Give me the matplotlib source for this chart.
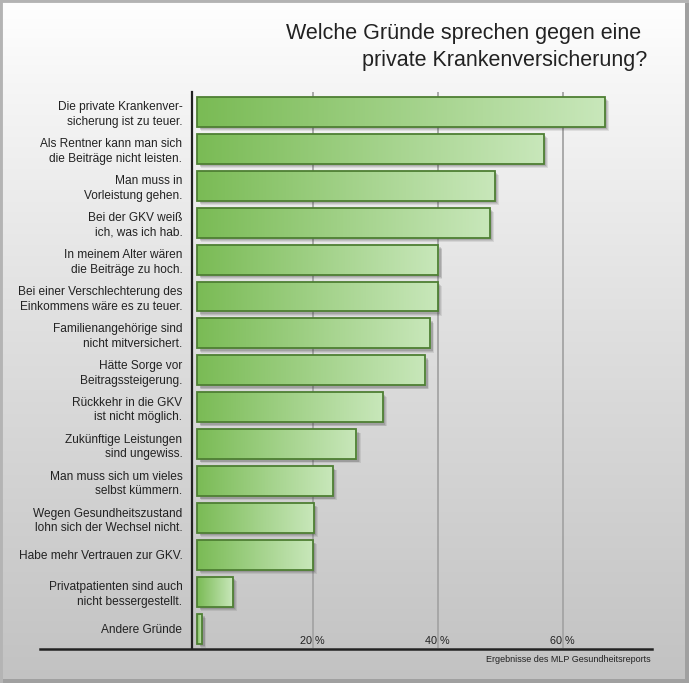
import numpy as np
import matplotlib
matplotlib.use("Agg")
import matplotlib.pyplot as plt
from matplotlib.patches import Rectangle
from matplotlib.colors import LinearSegmentedColormap
from matplotlib.lines import Line2D
import matplotlib.transforms as mtrans

plt.rcParams["font.family"] = ["Liberation Sans", "DejaVu Sans"]

# data (share of respondents in %)
labels = [
    "Die private Krankenver-\nsicherung ist zu teuer.",
    "Als Rentner kann man sich\ndie Beiträge nicht leisten.",
    "Man muss in\nVorleistung gehen.",
    "Bei der GKV weiß\nich, was ich hab.",
    "In meinem Alter wären\ndie Beiträge zu hoch.",
    "Bei einer Verschlechterung des\nEinkommens wäre es zu teuer.",
    "Familienangehörige sind\nnicht mitversichert.",
    "Hätte Sorge vor\nBeitragssteigerung.",
    "Rückkehr in die GKV\nist nicht möglich.",
    "Zukünftige Leistungen\nsind ungewiss.",
    "Man muss sich um vieles\nselbst kümmern.",
    "Wegen Gesundheitszustand\nlohn sich der Wechsel nicht.",
    "Habe mehr Vertrauen zur GKV.",
    "Privatpatienten sind auch\nnicht bessergestellt.",
    "Andere Gründe",
]
values = [66.7, 57.0, 49.1, 48.3, 40.1, 40.0, 38.8, 38.0, 31.2, 27.0, 23.2, 20.2, 20.0, 7.2, 2.3]
ticks = [20, 40, 60]
tick_labels = ["20 %", "40 %", "60 %"]
title = "Welche Gründe sprechen gegen eine \nprivate Krankenversicherung?"
source = "Ergebnisse des MLP Gesundheitsreports"

W, H = 689, 683
fig = plt.figure(figsize=(W / 100, H / 100), dpi=100)

# background panel with vertical grey gradient
bg = fig.add_axes([0, 0, 1, 1], zorder=-10)
bg.set_xlim(0, W)
bg.set_ylim(H, 0)
bg.axis("off")
grad = np.linspace(0, 1, 256).reshape(-1, 1)
bg_cmap = LinearSegmentedColormap.from_list(
    "bg", [(0, "#ffffff"), (0.12, "#f6f6f6"), (0.5, "#dedede"), (1, "#c2c2c2")])
bg.imshow(grad, extent=[0, W, H, 0], aspect="auto", cmap=bg_cmap, zorder=0)
# frame: grey border with darker shadow on right/bottom
bg.add_patch(Rectangle((0, 0), W, H, fill=False, ec="#b4b4b4", lw=3.5, zorder=2))
bg.add_patch(Rectangle((W - 4, 3), 4, H, fc="#a0a0a0", ec="none", zorder=3))
bg.add_patch(Rectangle((3, H - 4), W, 4, fc="#a0a0a0", ec="none", zorder=3))

ax = fig.add_axes([192 / W, 1 - 648 / H, (652 - 192) / W, (648 - 92) / H])
ax.patch.set_alpha(0)
n = len(values)

for t in ticks:
    ax.axvline(t, color="#a4a4a4", lw=1.3, zorder=0)

bar_start = 1.5
bar_h = 0.81
bar_cmap = LinearSegmentedColormap.from_list("bar", ["#7abb55", "#c8e7ba"])
for i, v in enumerate(values):
    y0 = i - bar_h / 2
    for k, a in enumerate([0.10, 0.12, 0.16]):
        off = mtrans.offset_copy(ax.transData, fig=fig, x=3.0 - k * 0.6, y=-(3.0 - k * 0.6), units="points")
        ax.add_patch(Rectangle((bar_start, y0), v - bar_start, bar_h, fc="#333333",
                               ec="none", alpha=a, transform=off, zorder=2))
    rect = Rectangle((bar_start, y0), v - bar_start, bar_h, fc="none",
                     ec="#4e7f33", lw=1.3, zorder=4)
    ax.add_patch(rect)
    im = ax.imshow(np.linspace(0, 1, 128).reshape(1, -1), cmap=bar_cmap, aspect="auto",
                   extent=[bar_start, v, y0 + bar_h, y0], zorder=3, interpolation="bilinear")
    im.set_clip_path(rect)
ax.set_xlim(0.7, 74.3)
ax.set_ylim(n - 0.48, -0.54)

ax.set_yticks(range(n))
ax.set_yticklabels(labels, fontsize=8.6, color="#222222", linespacing=1.3, ha="right")
ax.tick_params(axis="y", length=0, pad=7)
ax.set_xticks([])
for t, lab in zip(ticks, tick_labels):
    ax.text(t, n - 0.66, lab, ha="center", va="center", fontsize=7.8, color="#222222")

for s in ["top", "right", "bottom"]:
    ax.spines[s].set_visible(False)
ax.spines["left"].set_color("#222222")
ax.spines["left"].set_linewidth(1.6)

fig.add_artist(Line2D([40 / W, 652 / W], [1 - 648.5 / H] * 2, color="#222222", lw=1.8))
fig.text(651 / W, 1 - 660 / H, source, ha="right", va="center", fontsize=6.5, color="#222222")
fig.text(647 / W, 1 - 47 / H, title, ha="right", va="center", fontsize=15.5,
         color="#222222", linespacing=1.4)

fig.savefig("out.png", dpi=100)
